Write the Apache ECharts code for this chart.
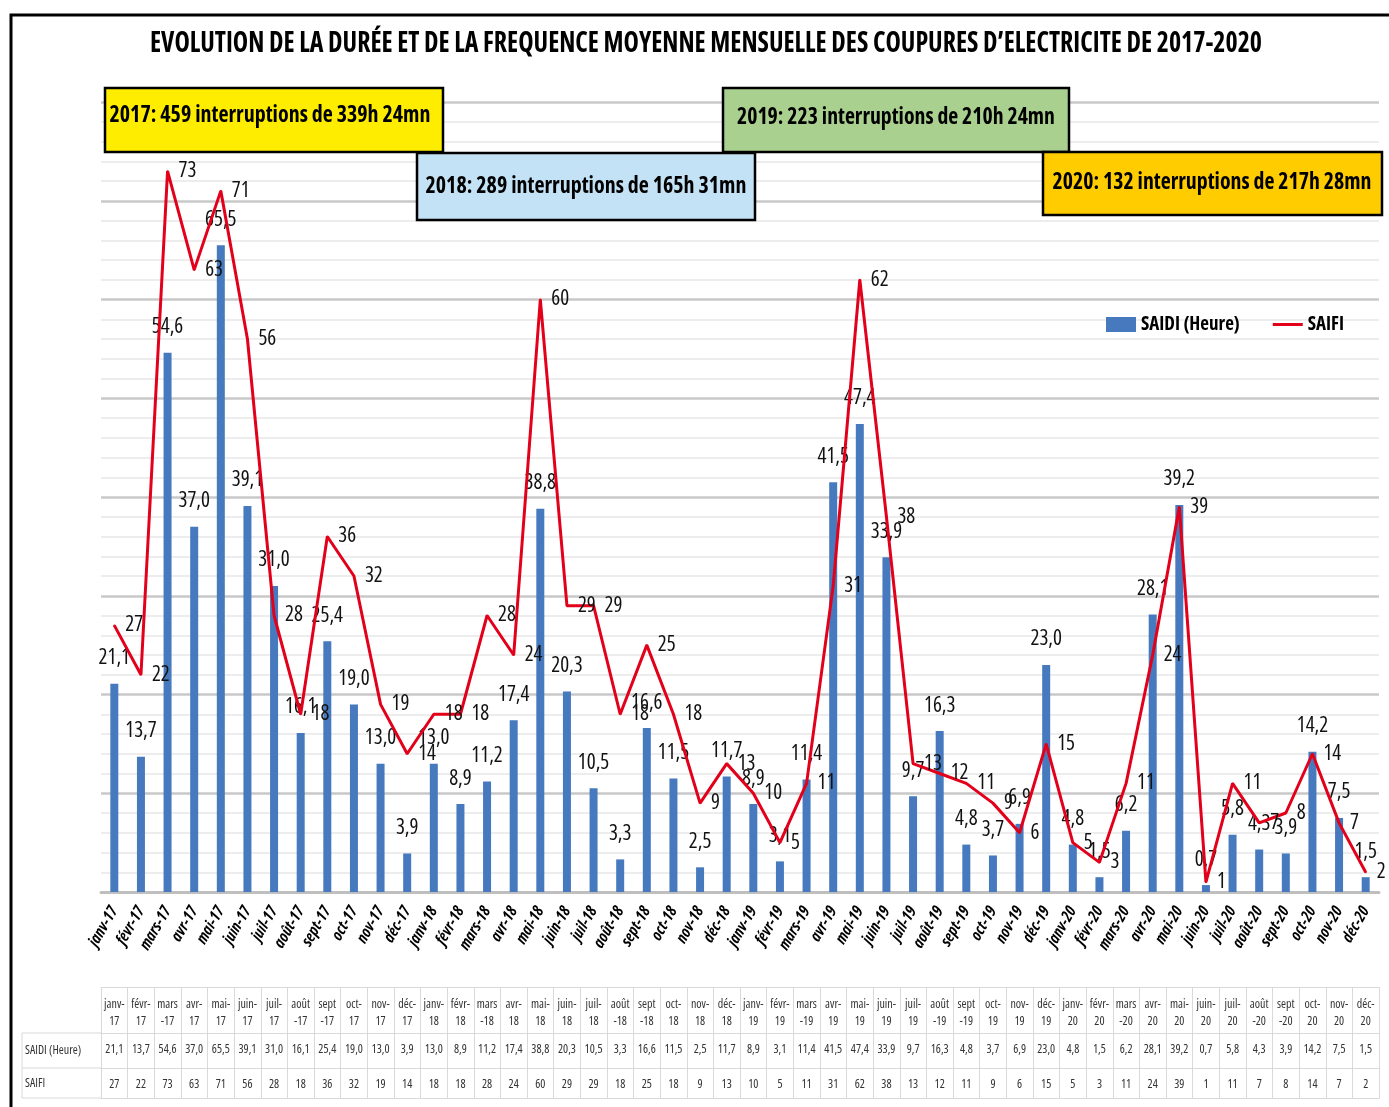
<!DOCTYPE html>
<html><head><meta charset="utf-8">
<script src="https://cdn.jsdelivr.net/npm/echarts@6/dist/echarts.min.js"></script>
<style>html,body{margin:0;padding:0;background:#fff}#c{width:1389px;height:1107px}</style>
</head><body><div id="c"></div>
<script>
// ---------- DATA ----------
const categories = [
 'janv-17','févr-17','mars-17','avr-17','mai-17','juin-17','juil-17','août-17','sept-17','oct-17','nov-17','déc-17',
 'janv-18','févr-18','mars-18','avr-18','mai-18','juin-18','juil-18','août-18','sept-18','oct-18','nov-18','déc-18',
 'janv-19','févr-19','mars-19','avr-19','mai-19','juin-19','juil-19','août-19','sept-19','oct-19','nov-19','déc-19',
 'janv-20','févr-20','mars-20','avr-20','mai-20','juin-20','juil-20','août-20','sept-20','oct-20','nov-20','déc-20'];
const saidi = [21.1,13.7,54.6,37.0,65.5,39.1,31.0,16.1,25.4,19.0,13.0,3.9,
 13.0,8.9,11.2,17.4,38.8,20.3,10.5,3.3,16.6,11.5,2.5,11.7,
 8.9,3.1,11.4,41.5,47.4,33.9,9.7,16.3,4.8,3.7,6.9,23.0,
 4.8,1.5,6.2,28.1,39.2,0.7,5.8,4.3,3.9,14.2,7.5,1.5];
const saifi = [27,22,73,63,71,56,28,18,36,32,19,14,
 18,18,28,24,60,29,29,18,25,18,9,13,
 10,5,11,31,62,38,13,12,11,9,6,15,
 5,3,11,24,39,1,11,7,8,14,7,2];
const seriesNames = ['SAIDI (Heure)', 'SAIFI'];
const titleText = "EVOLUTION DE LA DURÉE ET DE LA FREQUENCE MOYENNE MENSUELLE DES COUPURES D’ELECTRICITE DE 2017-2020";
const yearNotes = [
 '2017: 459 interruptions de 339h 24mn',
 '2018: 289 interruptions de 165h 31mn',
 '2019: 223 interruptions de 210h 24mn',
 '2020: 132 interruptions de 217h 28mn'];
const yMin = 0, yMax = 80, yStep = 10;

// ---------- HELPERS ----------
const FAM = "'Open Sans','DejaVu Sans Condensed',sans-serif";
const fmt = v => v.toFixed(1).replace('.', ',');
const wrapBefore = ['mars','août','sept'];
function header(c){ const [m,y] = c.split('-'); return wrapBefore.includes(m) ? m + '\n-' + y : m + '-\n' + y; }
const mctx = document.createElement('canvas').getContext('2d');
function fitScale(text, font, w){ mctx.font = font; return w / mctx.measureText(text).width; }

const TITLE_FONT = "bold condensed 29px " + FAM;
const BOX_FONT = "bold condensed 23px " + FAM;
function boxText(txt, cx, cy, w){
  return {type:'text', x:cx, y:cy, z:21, scaleX: fitScale(txt, BOX_FONT, w),
    style:{text:txt, font:BOX_FONT, fill:'#000', align:'center', verticalAlign:'middle'}};
}
function box(x,y,w,h,color){
  return {type:'rect', z:20, shape:{x:x,y:y,width:w,height:h}, style:{fill:color, stroke:'#000', lineWidth:2.5}};
}

const tableLine = '#d9d9d9';
const tblFont = {fontFamily: FAM, fontWeight: 'condensed', fontSize: 12, color: '#333'};
const labelFont = {fontFamily: FAM, fontWeight: 'condensed', fontSize: 21, color: '#111'};

const chart = echarts.init(document.getElementById('c'));
chart.setOption({
  animation: false,
  backgroundColor: '#fff',
  grid: {left: 101, right: 10, top: 102, bottom: 215},
  legend: {
    left: 1106, top: 315, padding: 0, itemWidth: 30, itemHeight: 15, itemGap: 33,
    symbolKeepAspect: true,
    textStyle: {fontFamily: FAM, fontSize: 19, fontWeight: 'bold condensed', color: '#000'},
    data: [{name: seriesNames[0], icon: 'rect'},
           {name: seriesNames[1], icon: 'path://M0,0L30,0L30,3L0,3Z'}]
  },
  xAxis: [
    {type:'category', data: categories, position:'bottom',
     axisLine:{lineStyle:{color:'#bfbfbf', width:3}}, axisTick:{show:false},
     axisLabel:{interval:0, rotate:60, margin:16, fontFamily:FAM, fontSize:16, fontStyle:'italic', fontWeight:'bold condensed', color:'#000'}},
    {type:'category', data: categories, position:'bottom', offset:95,
     axisLine:{lineStyle:{color:tableLine, width:1}},
     axisTick:{show:true, interval:0, length:111, lineStyle:{color:tableLine, width:1}},
     axisLabel:{interval:0, margin:9, lineHeight:17, formatter:(v)=>header(v), ...tblFont}},
    {type:'category', data: categories, position:'bottom', offset:141,
     axisLine:{lineStyle:{color:tableLine, width:1}}, axisTick:{show:false},
     axisLabel:{interval:0, margin:11, formatter:(v,i)=>fmt(saidi[i]), ...tblFont}},
    {type:'category', data: categories, position:'bottom', offset:176,
     axisLine:{lineStyle:{color:tableLine, width:1}}, axisTick:{show:false},
     axisLabel:{interval:0, margin:11, formatter:(v,i)=>String(saifi[i]), ...tblFont}},
    {type:'category', data: categories, position:'bottom', offset:206,
     axisLine:{lineStyle:{color:tableLine, width:1}}, axisTick:{show:false}, axisLabel:{show:false}}
  ],
  yAxis: {type:'value', min:yMin, max:yMax, interval:yStep,
    axisLabel:{show:false}, axisLine:{show:false}, axisTick:{show:false},
    splitLine:{lineStyle:{color:'#c8c8c8', width:2.5}},
    minorTick:{show:false, splitNumber:5},
    minorSplitLine:{show:true, lineStyle:{color:'#e8e8e8', width:1.5}}},
  series: [
    {name: seriesNames[0], type:'bar', data: saidi, barWidth: 8, z: 2,
     itemStyle:{color:'#4679bd'},
     label:{show:true, position:'top', distance:15, formatter:p=>fmt(p.value), ...labelFont}},
    {name: seriesNames[1], type:'line', data: saifi, z: 3,
     symbol:'circle', symbolSize:2, showSymbol:true,
     lineStyle:{color:'#e2001a', width:3}, itemStyle:{color:'#e2001a'},
     label:{show:true, position:'right', distance:10, ...labelFont}}
  ],
  graphic: [
    {type:'rect', z:-10, silent:true, shape:{x:11,y:15,width:1420,height:1120}, style:{fill:'none', stroke:'#000', lineWidth:3}},
    {type:'text', x:706, y:44, z:21, scaleX: fitScale(titleText, TITLE_FONT, 1112),
     style:{text:titleText, font:TITLE_FONT, fill:'#000', align:'center', verticalAlign:'middle'}},
    box(105,88,338,64,'#ffed00'), boxText(yearNotes[0], 270, 115, 321),
    box(417,153,338,67,'#c4e2f5'), boxText(yearNotes[1], 586, 186, 321),
    box(723,88,346,64,'#a9d08e'), boxText(yearNotes[2], 896, 117, 318),
    box(1043,152,339,63,'#ffcc00'), boxText(yearNotes[3], 1212, 182, 319),
    {type:'polyline', z:5, shape:{points:[[101,1033],[22,1033],[22,1098],[101,1098]]}, style:{fill:'none', stroke:tableLine, lineWidth:1}},
    {type:'line', z:5, shape:{x1:22,y1:1068,x2:101,y2:1068}, style:{stroke:tableLine, lineWidth:1}},
    {type:'text', x:25, y:1051, z:5, style:{text:seriesNames[0], font:"condensed 12px "+FAM, fill:'#333', verticalAlign:'middle'}},
    {type:'text', x:25, y:1084, z:5, style:{text:seriesNames[1], font:"condensed 12px "+FAM, fill:'#333', verticalAlign:'middle'}}
  ]
});
</script></body></html>
